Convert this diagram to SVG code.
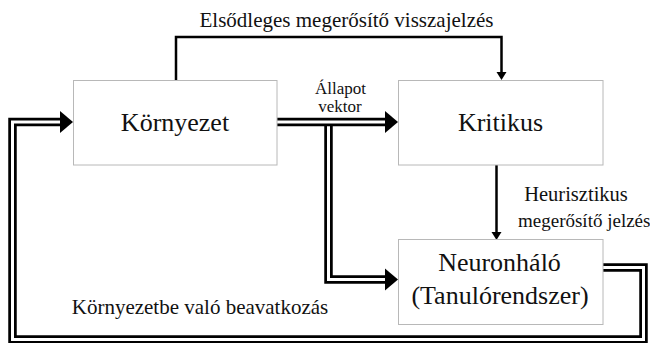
<svg xmlns="http://www.w3.org/2000/svg" width="650" height="343" viewBox="0 0 650 343">
<style>
.box{fill:#fff;stroke:#b8b8b8;stroke-width:1}
.t{font-family:"Liberation Serif","Times New Roman",serif;fill:#111;text-anchor:middle}
.big{font-size:26px}
.lbl{font-size:21px}
.sm{font-size:17px}
.dblo{fill:none;stroke:#000;stroke-width:8.5;stroke-linejoin:miter}
.dbli{fill:none;stroke:#fff;stroke-width:3;stroke-linejoin:miter}
.sgl{fill:none;stroke:#000;stroke-width:2.5;stroke-linejoin:miter}
.ah{fill:#000}
</style>
<rect width="650" height="343" fill="#fff"/>
<g id="connectors">
  <path class="dblo" d="M603,267.5 H643.5 V339.5 H12.5 V122 H60"/>
  <path class="dbli" d="M603,267.5 H643.5 V339.5 H12.5 V122 H60"/>
  <polygon class="ah" points="60,111 73,122 60,133"/>
  <path class="dblo" d="M328.5,125 V279.5 H385"/>
  <path class="dbli" d="M328.5,125 V279.5 H385"/>
  <polygon class="ah" points="385,268.5 398,279.5 385,290.5"/>
  <path class="dblo" d="M277,122 H385"/>
  <path class="dbli" d="M277,122 H385"/>
  <polygon class="ah" points="385,111 398,122 385,133"/>
  <path class="sgl" d="M176,80 V37 H501.5 V72"/>
  <polygon class="ah" points="496.5,72 506.5,72 501.5,80"/>
  <path class="sgl" d="M496.5,165 V232"/>
  <polygon class="ah" points="491.5,232 501.5,232 496.5,240"/>
</g>
<g id="label-primary"><text class="t lbl" x="346.5" y="27">Elsődleges megerősítő visszajelzés</text></g>
<g id="label-state"><text class="t sm" x="340.5" y="94">Állapot</text><text class="t sm" x="340" y="111.5">vektor</text></g>
<g id="label-heuristic"><text class="t" style="font-size:20.5px" x="576" y="200.5">Heurisztikus</text><text class="t" style="font-size:19px;text-anchor:start" x="518" y="227">megerősítő jelzés</text></g>
<g id="label-action"><text class="t lbl" x="200" y="314">Környezetbe való beavatkozás</text></g>
<g id="kornyezet">
  <rect class="box" x="73.5" y="80.5" width="203.5" height="84.5"/>
  <text class="t big" x="175" y="130.5">Környezet</text>
</g>
<g id="kritikus">
  <rect class="box" x="398.5" y="80.5" width="204.5" height="84.5"/>
  <text class="t big" x="500.5" y="130.5">Kritikus</text>
</g>
<g id="neuronhalo">
  <rect class="box" x="398.5" y="239.5" width="204.5" height="85"/>
  <text class="t big" x="499.5" y="271">Neuronháló</text>
  <text class="t big" x="500" y="303.5">(Tanulórendszer)</text>
</g>
</svg>
